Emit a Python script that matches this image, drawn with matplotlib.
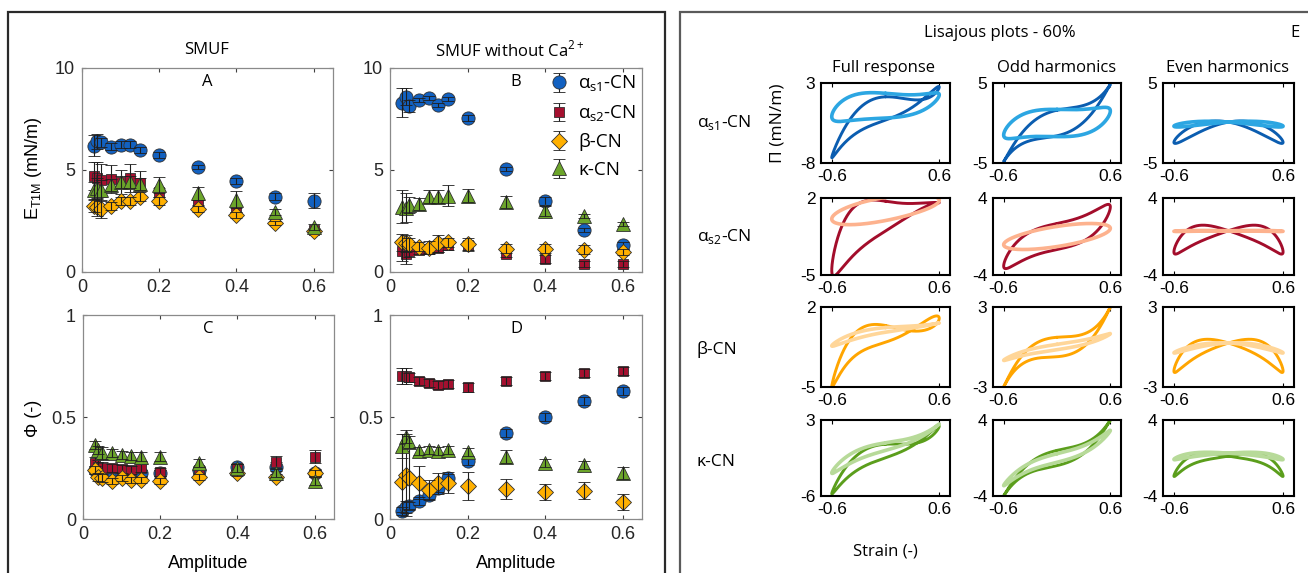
import numpy as np
import matplotlib
matplotlib.use('Agg')
import matplotlib.pyplot as plt
from matplotlib.patches import Rectangle

W, H, DPI = 1308, 573, 100

# ---------------- data: amplitude sweep ----------------
amp = [0.03, 0.04, 0.05, 0.075, 0.1, 0.125, 0.15, 0.2, 0.3, 0.4, 0.5, 0.6]
series_labels = ['α$_{\\mathrm{s1}}$-CN', 'α$_{\\mathrm{s2}}$-CN', 'β-CN', 'κ-CN']

# Panel A: E_T1M, SMUF
A_as1 = [6.2, 6.4, 6.35, 6.15, 6.25, 6.25, 6.0, 5.75, 5.15, 4.45, 3.7, 3.5]
A_as2 = [4.7, 4.6, 4.5, 4.55, 4.4, 4.6, 4.35, 3.9, 3.45, 3.1, 2.55, 2.05]
A_b = [3.25, 3.2, 3.1, 3.25, 3.5, 3.5, 3.7, 3.5, 3.1, 2.8, 2.4, 2.0]
A_k = [4.0, 4.1, 4.0, 4.25, 4.4, 4.4, 4.3, 4.25, 3.85, 3.55, 2.95, 2.2]
A_as1_err = [0.5, 0.35, 0.2, 0.15, 0.15, 0.15, 0.15, 0.15, 0.1, 0.15, 0.15, 0.35]
A_as2_err = [0.7, 0.8, 0.8, 0.7, 0.6, 0.7, 0.6, 0.2, 0.15, 0.15, 0.1, 0.1]
A_b_err = [0.3, 0.45, 0.45, 0.2, 0.2, 0.2, 0.2, 0.2, 0.15, 0.15, 0.1, 0.1]
A_k_err = [0.4, 0.5, 0.5, 0.3, 0.3, 0.3, 0.3, 0.4, 0.3, 0.4, 0.15, 0.15]

# Panel B: E_T1M, SMUF without Ca2+
B_as1 = [8.3, 8.6, 8.15, 8.45, 8.55, 8.2, 8.5, 7.55, 5.05, 3.5, 2.05, 1.3]
B_as2 = [1.05, 0.9, 1.05, 1.1, 1.15, 1.2, 1.3, 1.3, 0.9, 0.65, 0.4, 0.4]
B_b = [1.45, 1.4, 1.35, 1.25, 1.2, 1.4, 1.45, 1.35, 1.15, 1.15, 1.1, 1.0]
B_k = [3.2, 3.15, 3.3, 3.35, 3.7, 3.7, 3.75, 3.75, 3.45, 3.0, 2.75, 2.35]
B_as1_err = [0.7, 0.4, 0.3, 0.1, 0.1, 0.1, 0.1, 0.15, 0.1, 0.2, 0.1, 0.15]
B_as2_err = [0.5, 0.5, 0.3, 0.2, 0.2, 0.2, 0.2, 0.2, 0.15, 0.2, 0.15, 0.15]
B_b_err = [0.4, 0.4, 0.3, 0.2, 0.3, 0.4, 0.2, 0.3, 0.2, 0.2, 0.2, 0.15]
B_k_err = [0.8, 0.7, 0.4, 0.3, 0.3, 0.3, 0.5, 0.3, 0.3, 0.25, 0.1, 0.1]

# Panel C: Phi, SMUF
C_as1 = [0.24, 0.227, 0.224, 0.22, 0.22, 0.22, 0.224, 0.224, 0.24, 0.257, 0.257, 0.227]
C_as2 = [0.276, 0.257, 0.248, 0.248, 0.245, 0.24, 0.248, 0.232, 0.24, 0.252, 0.281, 0.306]
C_b = [0.24, 0.207, 0.2, 0.188, 0.2, 0.19, 0.19, 0.188, 0.204, 0.224, 0.207, 0.227]
C_k = [0.363, 0.338, 0.322, 0.325, 0.314, 0.31, 0.306, 0.306, 0.273, 0.248, 0.224, 0.188]
C_as1_err = [0.02, 0.02, 0.02, 0.015, 0.015, 0.015, 0.015, 0.015, 0.015, 0.015, 0.02, 0.02]
C_as2_err = [0.03, 0.03, 0.03, 0.02, 0.02, 0.02, 0.02, 0.02, 0.02, 0.02, 0.03, 0.03]
C_b_err = [0.02, 0.02, 0.02, 0.015, 0.015, 0.015, 0.015, 0.015, 0.015, 0.015, 0.015, 0.015]
C_k_err = [0.02, 0.02, 0.03, 0.02, 0.02, 0.02, 0.02, 0.02, 0.02, 0.02, 0.02, 0.02]

# Panel D: Phi, SMUF without Ca2+
D_as1 = [0.039, 0.06, 0.065, 0.088, 0.12, 0.15, 0.2, 0.286, 0.423, 0.502, 0.578, 0.629]
D_as2 = [0.70, 0.70, 0.694, 0.678, 0.665, 0.657, 0.66, 0.645, 0.678, 0.70, 0.717, 0.725]
D_b = [0.183, 0.216, 0.2, 0.178, 0.142, 0.175, 0.178, 0.162, 0.147, 0.134, 0.139, 0.085]
D_k = [0.358, 0.404, 0.379, 0.335, 0.338, 0.335, 0.338, 0.33, 0.306, 0.276, 0.265, 0.227]
D_as1_err = [0.02, 0.03, 0.02, 0.02, 0.02, 0.02, 0.02, 0.02, 0.02, 0.02, 0.02, 0.02]
D_as2_err = [0.04, 0.04, 0.02, 0.02, 0.02, 0.02, 0.02, 0.02, 0.02, 0.02, 0.02, 0.02]
D_b_err = [0.15, 0.2, 0.15, 0.08, 0.05, 0.05, 0.05, 0.07, 0.05, 0.04, 0.04, 0.04]
D_k_err = [0.06, 0.03, 0.03, 0.02, 0.02, 0.02, 0.02, 0.02, 0.03, 0.02, 0.02, 0.03]

# ---------------- data: Lissajous (harmonic coefficients) -----
proteins = ['α$_{\\mathrm{s1}}$-CN', 'α$_{\\mathrm{s2}}$-CN', 'β-CN', 'κ-CN']
# odd harmonics: (a1, b1, a3, b3)   stress = a1 sin t + b1 cos t + a3 sin 3t + b3 cos 3t
odd_dark = [(4.0, 1.2, -0.84, 0.4), (2.6, 1.5, -0.47, -0.15),
            (2.33, 0.55, -0.67, 0.18), (3.33, 0.6, -0.67, 0.2)]
odd_light = [(1.1, 1.8, -0.4, -0.1), (0.85, 1.05, 0.0, 0.0),
             (0.9, 0.2, -0.1, 0.0), (2.53, 0.45, -0.37, 0.0)]
# even harmonics: (c0, a2, b2, b4)   stress = c0 + a2 sin 2t + b2 cos 2t + b4 cos 4t
even_dark = [(-1.15, -0.6, 1.27, 0.0), (-0.3, -0.95, 1.1, -0.2),
             (-0.6, -0.62, 1.05, -0.15), (-0.59, -0.45, 1.05, -0.26)]
even_light = [(-0.14, -0.25, 0.26, 0.0), (0.57, -0.05, 0.03, 0.0),
              (-0.07, -0.1, 0.37, 0.0), (0.23, -0.2, 0.33, -0.05)]
# even part contained in the full response: (c0, a2, b2, b4)
full_even_dark = [(-1.45, -0.6, 0.95, 0.0), (-0.37, -0.95, 0.93, -0.2),
                  (-1.02, -0.62, 0.82, -0.15), (-1.2, -0.45, 0.53, 0.0)]
full_even_light = [(-0.12, -0.25, 0.0, 0.0), (0.97, -0.05, 0.03, 0.0),
                   (-0.2, -0.1, 0.2, 0.0), (-0.26, -0.2, 0.11, 0.0)]
strain_amp = 0.6
ylim_full = [(-8, 3), (-5, 2), (-5, 2), (-6, 3)]
ylim_harm = [(-5, 5), (-4, 4), (-3, 3), (-4, 4)]
dark_cols = ['#0B5DB0', '#A30D2B', '#FFA500', '#5B9E1C']
light_cols = ['#2CA6E2', '#FDB28E', '#FFD699', '#B7DA99']

# ---------------- style ----------------
plt.rcParams['font.family'] = ['Liberation Sans', 'DejaVu Sans']
plt.rcParams['mathtext.fontset'] = 'custom'
plt.rcParams['mathtext.rm'] = 'Open Sans'
plt.rcParams['mathtext.sf'] = 'Liberation Sans'
OS = ['Open Sans', 'DejaVu Sans']

mk_cols = ['#1261C1', '#A5102F', '#FFB000', '#6CA52A']
mk_shapes = ['o', 's', 'D', '^']
mk_sizes = [9.5, 7.5, 8.5, 10.5]

fig = plt.figure(figsize=(W / DPI, H / DPI), dpi=DPI)


def rect(l, t, r, b):
    return [l / W, 1 - b / H, (r - l) / W, (b - t) / H]


def ftext(x, y, s, **kw):
    kw.setdefault('ha', 'center')
    kw.setdefault('va', 'center')
    return fig.text(x / W, 1 - y / H, s, **kw)


# outer boxes
fig.patches.append(Rectangle((8 / W, -0.1), (665 - 8) / W, 1.1 - 12 / H,
                             transform=fig.transFigure, fill=False,
                             ec='#2a2a2a', lw=1.6))
fig.patches.append(Rectangle((680 / W, -0.1), 0.5, 1.1 - 12 / H,
                             transform=fig.transFigure, fill=False,
                             ec='#5a5a5a', lw=1.6))


def sweep_panel(pos, series, errs, ylim, yticks, yticklabels, letter, legend=False):
    ax = fig.add_axes(rect(*pos))
    hs = []
    for i, (vals, err) in enumerate(zip(series, errs)):
        c = ax.errorbar(amp, vals, yerr=err, fmt=mk_shapes[i], ms=mk_sizes[i],
                        mfc=mk_cols[i], mec='#303030', mew=0.6,
                        ecolor='#1e1e1e', elinewidth=0.8, capsize=4.2,
                        capthick=0.8, label=series_labels[i])
        c[0].set_zorder(2 + 2 * i)
        for ln in c[1]:
            ln.set_zorder(3 + 2 * i)
        for ln in c[2]:
            ln.set_zorder(3 + 2 * i)
        hs.append(c)
    ax.set_xlim(0, 0.65)
    ax.set_ylim(*ylim)
    ax.set_xticks([0, 0.2, 0.4, 0.6])
    ax.set_xticklabels(['0', '0.2', '0.4', '0.6'])
    ax.set_yticks(yticks)
    ax.set_yticklabels(yticklabels)
    ax.tick_params(direction='in', length=3, top=True, right=True,
                   labelsize=13, labelcolor='#262626', color='#404040', pad=5)
    for sp in ax.spines.values():
        sp.set_color('#8a8a8a')
        sp.set_linewidth(0.9)
    ax.text(0.5, 0.93, letter, transform=ax.transAxes, ha='center', va='center',
            fontsize=12, family=OS)
    if legend:
        ax.legend(handles=hs, loc='upper right', frameon=False,
                  prop={'family': OS, 'size': 13.5}, handlelength=1.1,
                  handletextpad=0.5, labelspacing=0.5,
                  bbox_to_anchor=(1.03, 1.035), borderaxespad=0.3)
    return ax


axA = sweep_panel((82, 68, 333, 272), [A_as1, A_as2, A_b, A_k],
                  [A_as1_err, A_as2_err, A_b_err, A_k_err],
                  (0, 10), [0, 5, 10], ['0', '5', '10'], 'A')
axB = sweep_panel((390, 68, 642, 272), [B_as1, B_as2, B_b, B_k],
                  [B_as1_err, B_as2_err, B_b_err, B_k_err],
                  (0, 10), [0, 5, 10], ['0', '5', '10'], 'B', legend=True)
axC = sweep_panel((83, 315, 334, 519), [C_as1, C_as2, C_b, C_k],
                  [C_as1_err, C_as2_err, C_b_err, C_k_err],
                  (0, 1), [0, 0.5, 1], ['0', '0.5', '1'], 'C')
axD = sweep_panel((390, 315, 642, 519), [D_as1, D_as2, D_b, D_k],
                  [D_as1_err, D_as2_err, D_b_err, D_k_err],
                  (0, 1), [0, 0.5, 1], ['0', '0.5', '1'], 'D')

ftext(207, 50, 'SMUF', fontsize=12, family=OS)
ftext(510, 50, 'SMUF without Ca$^{\\mathrm{2+}}$', fontsize=12, family=OS)
ftext(33, 168, 'E$_{\\mathsf{T1M}}$ (mN/m)', fontsize=13, rotation=90)
ftext(33, 418, 'Φ (-)', fontsize=13, rotation=90)
ftext(208, 564, 'Amplitude', fontsize=13)
ftext(516, 564, 'Amplitude', fontsize=13)

# ---------------- Lissajous plots ----------------
t = np.linspace(0, 2 * np.pi, 600)
strain = strain_amp * np.sin(t)


def odd_part(c):
    a1, b1, a3, b3 = c
    return a1 * np.sin(t) + b1 * np.cos(t) + a3 * np.sin(3 * t) + b3 * np.cos(3 * t)


def even_part(c):
    c0, a2, b2, b4 = c
    return c0 + a2 * np.sin(2 * t) + b2 * np.cos(2 * t) + b4 * np.cos(4 * t)


cols_x = [(821, 950), (993, 1121), (1163, 1294)]
rows_y = [(83, 163), (198, 275), (307, 387), (420, 496)]
row_label_y = [123, 237, 350, 462]

for r in range(4):
    for cidx in range(3):
        l, rr = cols_x[cidx]
        tp, bt = rows_y[r]
        ax = fig.add_axes(rect(l, tp, rr, bt))
        if cidx == 0:
            yd = odd_part(odd_dark[r]) + even_part(full_even_dark[r])
            yl = odd_part(odd_light[r]) + even_part(full_even_light[r])
            lim = ylim_full[r]
        elif cidx == 1:
            yd = odd_part(odd_dark[r])
            yl = odd_part(odd_light[r])
            lim = ylim_harm[r]
        else:
            yd = even_part(even_dark[r])
            yl = even_part(even_light[r])
            lim = ylim_harm[r]
        ax.plot(strain, yd, color=dark_cols[r], lw=2.1, solid_capstyle='round')
        ax.plot(strain, yl, color=light_cols[r], lw=2.6, solid_capstyle='round')
        ax.set_xlim(-0.72, 0.72)
        ax.set_ylim(*lim)
        ax.set_xticks([-0.6, 0.6])
        ax.set_xticklabels(['-0.6', '0.6'])
        ax.set_yticks(list(lim))
        ax.set_yticklabels([f'{lim[0]:g}', f'{lim[1]:g}'])
        ax.tick_params(axis='x', direction='in', length=3, top=True,
                       labelsize=12.5, pad=4)
        ax.tick_params(axis='y', length=0, labelsize=12.5, pad=4)
        for sp in ax.spines.values():
            sp.set_color('black')
            sp.set_linewidth(1.5)
    ftext(697, row_label_y[r], proteins[r], fontsize=12.5, family=OS, ha='left')

ftext(1000, 33, 'Lisajous plots - 60%', fontsize=12, family=OS)
ftext(1295, 33, 'E', fontsize=12, family=OS)
ftext(884, 68, 'Full response', fontsize=12, family=OS)
ftext(1057, 68, 'Odd harmonics', fontsize=12, family=OS)
ftext(1228, 68, 'Even harmonics', fontsize=12, family=OS)
ftext(777, 123, 'Π (mN/m)', fontsize=12.5, family=OS, rotation=90)
ftext(885, 552, 'Strain (-)', fontsize=12, family=OS)

fig.savefig('out.png', dpi=DPI)
